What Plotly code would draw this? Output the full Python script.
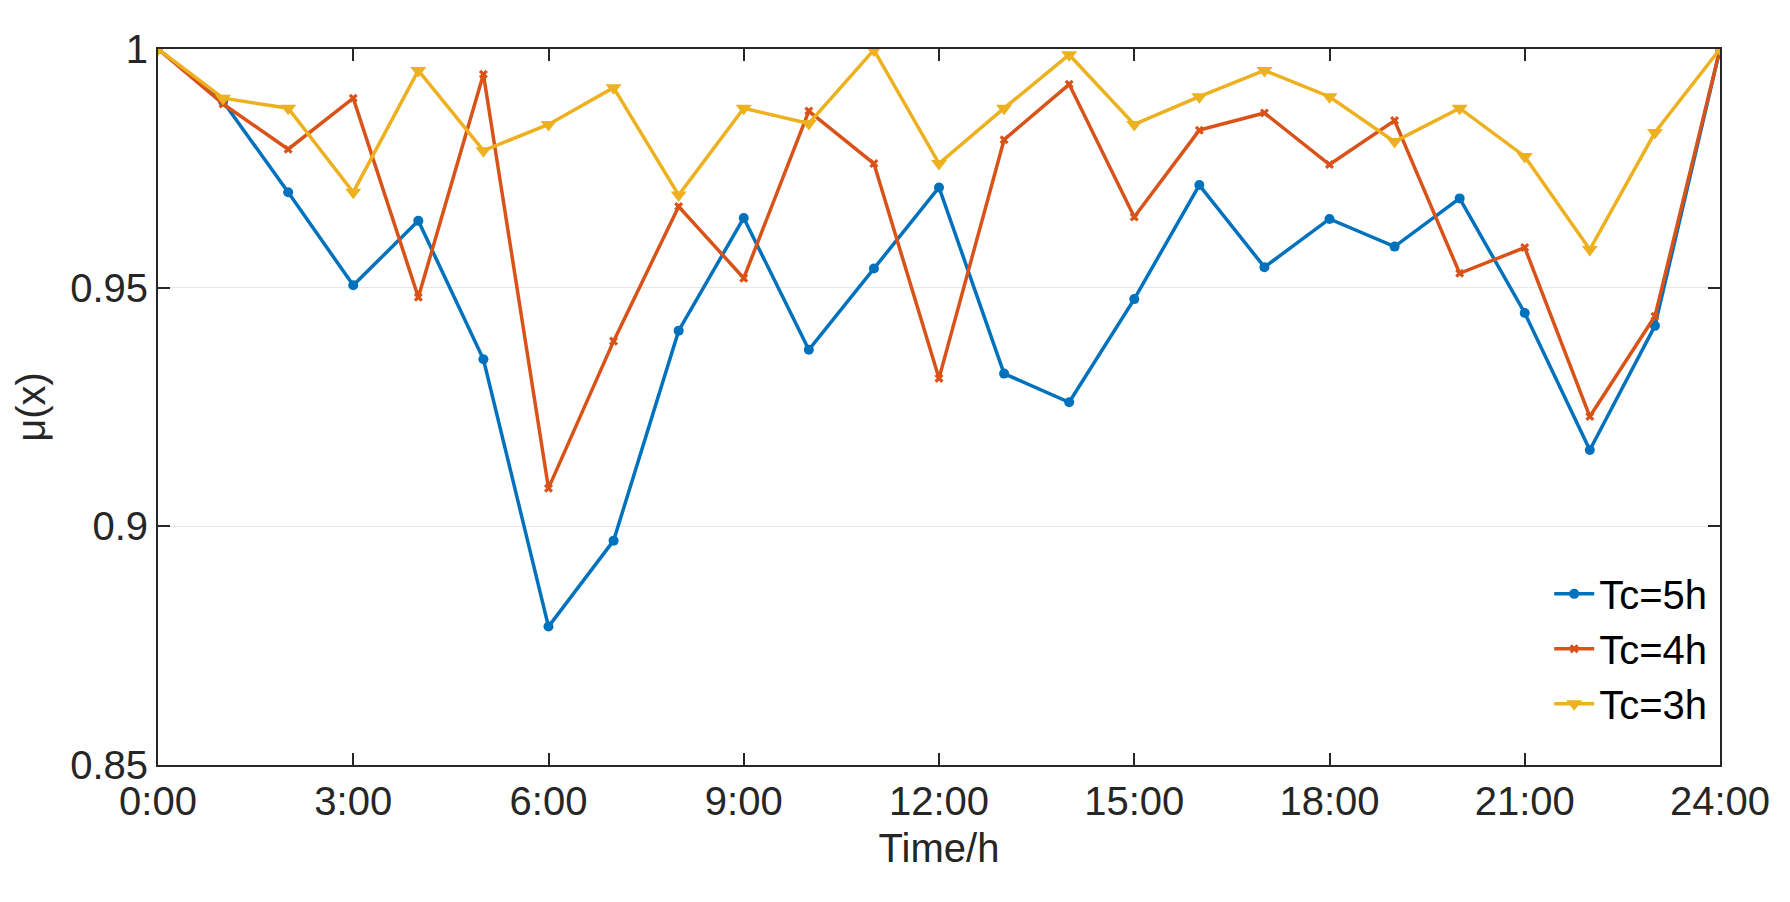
import plotly.graph_objects as go

hours = list(range(25))
tick_vals = [0, 3, 6, 9, 12, 15, 18, 21, 24]
tick_text = ["0:00", "3:00", "6:00", "9:00", "12:00", "15:00", "18:00", "21:00", "24:00"]
tc5 = [1, 0.989, 0.970, 0.9505, 0.964, 0.935, 0.879, 0.897, 0.941, 0.9646, 0.937, 0.954, 0.971,
       0.932, 0.926, 0.9476, 0.9715, 0.9543, 0.9644, 0.9586, 0.9687, 0.9447, 0.916, 0.942, 1]
tc4 = [1, 0.9885, 0.979, 0.9897, 0.948, 0.9947, 0.908, 0.9388, 0.967, 0.952, 0.987, 0.976, 0.931,
       0.981, 0.9926, 0.9648, 0.983, 0.9866, 0.9758, 0.985, 0.953, 0.9584, 0.923, 0.944, 1]
tc3 = [1, 0.9897, 0.9876, 0.970, 0.9955, 0.9787, 0.9842, 0.9919, 0.9694, 0.9876, 0.9844, 0.9998, 0.976,
       0.9876, 0.9988, 0.9842, 0.99, 0.9955, 0.99, 0.9806, 0.9876, 0.9775, 0.958, 0.9825, 1]

fig = go.Figure()
fig.add_trace(go.Scatter(x=hours, y=tc5, name="Tc=5h", mode="lines+markers",
                         line=dict(color="#0072BD", width=3.5), marker=dict(symbol="circle", size=10)))
fig.add_trace(go.Scatter(x=hours, y=tc4, name="Tc=4h", mode="lines+markers",
                         line=dict(color="#D95319", width=3.5), marker=dict(symbol="x", size=8)))
fig.add_trace(go.Scatter(x=hours, y=tc3, name="Tc=3h", mode="lines+markers",
                         line=dict(color="#EDB120", width=3.5), marker=dict(symbol="triangle-down", size=14)))

axis_common = dict(showline=True, linecolor="#262626", linewidth=2, mirror="ticks",
                   ticks="inside", ticklen=12, tickwidth=2, tickcolor="#262626",
                   zeroline=False, tickfont=dict(size=40, color="#262626"))
fig.update_xaxes(range=[0, 24], tickvals=tick_vals, ticktext=tick_text, showgrid=False,
                 title=dict(text="Time/h", font=dict(size=40, color="#262626"), standoff=12), **axis_common)
fig.update_yaxes(range=[0.85, 1], tickvals=[0.85, 0.9, 0.95, 1], ticktext=["0.85", "0.9", "0.95", "1"],
                 showgrid=True, gridcolor="#e6e6e6", gridwidth=1,
                 title=dict(text="μ(x)", font=dict(size=40, color="#262626"), standoff=12), **axis_common)
fig.update_layout(width=1790, height=902, plot_bgcolor="white", paper_bgcolor="white",
                  font=dict(family="Liberation Sans, Arial", size=40, color="black"),
                  margin=dict(l=150, r=78, t=41, b=145),
                  legend=dict(x=0.995, y=0.04, xanchor="right", yanchor="bottom",
                              bgcolor="rgba(255,255,255,0)", font=dict(size=40), tracegroupgap=0,
                              itemwidth=40))
fig.write_html("out.html")
